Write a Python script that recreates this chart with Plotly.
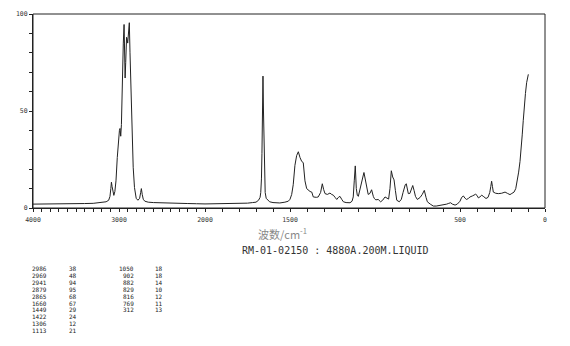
import plotly.graph_objects as go

# ---- spectrum data (wavenumber cm-1, intensity) ----
# high-wavenumber part, drawn on the compressed 4000-2000 axis
hi_wn = [4000, 3900, 3800, 3700, 3600, 3500, 3400, 3300, 3200, 3150, 3120, 3105, 3095, 3088,
         3080, 3072, 3060, 3048, 3035, 3020, 3005, 2995, 2988, 2980, 2972, 2965, 2958, 2950,
         2941, 2935, 2929, 2922, 2912, 2905, 2899, 2890, 2880, 2872, 2865, 2855, 2846, 2835,
         2820, 2800, 2780, 2760, 2748, 2740, 2730, 2718, 2700, 2660, 2600, 2500, 2400, 2300,
         2200, 2100, 2000]
hi_int = [2.0, 2.0, 2.1, 2.0, 2.2, 2.1, 2.3, 2.4, 2.8, 3.2, 4.0, 6.0, 10.0, 13.3,
          11.0, 8.0, 6.5, 8.5, 14.0, 26.0, 37.0, 40.0, 41.0, 37.0, 43.0, 60.0, 71.0, 85.0,
          94.6, 80.0, 67.0, 75.0, 88.0, 87.0, 85.0, 90.0, 95.5, 80.0, 66.0, 50.0, 38.0, 21.0,
          10.6, 5.0, 4.0, 5.0, 8.0, 10.0, 7.0, 4.5, 3.5, 3.0, 2.8, 2.6, 2.6, 2.5,
          2.3, 2.2, 2.1]

# low-wavenumber part, drawn on the 2000-0 axis
lo_wn = [2000, 1900, 1800, 1750, 1720, 1700, 1685, 1676, 1672, 1668, 1665, 1662, 1659, 1656,
         1653, 1650, 1646, 1640, 1630, 1620, 1600, 1560, 1530, 1510, 1500, 1490, 1481, 1471,
         1461, 1451, 1441, 1431, 1422, 1412, 1402, 1392, 1382, 1372, 1363, 1345, 1334, 1320,
         1310, 1302, 1294, 1280, 1265, 1255, 1245, 1235, 1225, 1215, 1206, 1196, 1186, 1170,
         1147, 1135, 1128, 1122, 1116, 1110, 1104, 1098, 1088, 1078, 1070, 1065, 1058, 1050,
         1040, 1030, 1020, 1010, 1004, 995, 981, 967, 955, 941, 930, 920, 912, 904, 896, 888,
         880, 872, 857, 845, 835, 829, 822, 816, 810, 804, 795, 785, 778, 770, 762, 751, 735,
         722, 710, 700, 692, 675, 657, 640, 618, 600, 578, 566, 555, 545, 529, 516, 500, 490,
         480, 470, 461, 450, 441, 425, 408, 400, 392, 382, 372, 360, 347, 335, 325, 319, 314,
         309, 304, 290, 275, 255, 235, 220, 206, 195, 182, 172, 163, 155, 147, 140, 134, 128,
         122, 115, 108, 98]
lo_int = [2.1, 2.2, 2.3, 2.5, 2.8, 3.0, 4.0, 5.5, 8.0, 15.0, 28.0, 50.0, 68.0, 50.0,
          28.0, 15.0, 8.0, 5.0, 3.8, 3.2, 2.8, 2.6, 3.0, 3.5, 4.5, 7.0, 12.0, 22.0,
          27.0, 29.0, 26.0, 24.0, 23.4, 14.0, 10.0, 9.0, 8.5, 8.2, 5.7, 5.5, 5.7, 8.0,
          12.5, 9.5, 7.4, 7.0, 7.7, 7.0, 6.6, 5.5, 4.4, 5.5, 6.0, 4.5, 3.2, 2.8,
          2.7, 3.5, 5.7, 14.0, 21.7, 10.0, 6.5, 6.0, 10.0, 15.0, 16.5, 18.3, 15.0, 10.0,
          7.0, 7.5, 9.4, 6.0, 4.9, 4.2, 4.4, 3.2, 4.0, 5.7, 5.0, 4.6, 10.0, 19.2, 16.0, 14.5,
          9.0, 4.0, 3.2, 4.5, 8.0, 10.5, 12.0, 12.5, 9.0, 7.4, 7.5, 10.0, 11.6, 9.0, 6.0, 4.4, 5.4,
          7.0, 9.1, 5.5, 3.2, 2.0, 1.0, 1.0, 1.3, 1.8, 2.0, 2.4, 2.7, 2.0, 1.5, 2.0, 3.5, 5.5,
          6.2, 5.0, 4.4, 5.0, 5.7, 6.3, 7.1, 6.5, 5.2, 5.8, 6.6, 5.8, 4.9, 5.5, 8.0, 11.0, 13.8,
          11.0, 8.2, 7.6, 7.4, 7.6, 8.2, 7.5, 6.9, 7.5, 8.2, 10.0, 14.0, 18.5, 24.0, 30.0, 37.7, 45.0,
          52.9, 59.0, 64.6, 68.9]

# ---- axis ticks ----
hi_ticks = list(range(4000, 2000, -100))
hi_labels = {4000: "4000", 3000: "3000"}
lo_ticks = list(range(2000, -1, -100))
lo_labels = {2000: "2000", 1500: "1500", 500: "500", 0: "0"}
y_ticks = list(range(0, 101, 10))
y_labels = {0: "0", 50: "50", 100: "100"}

# ---- peak table ----
peak_wn_1 = ["2986", "2969", "2941", "2879", "2865", "1660", "1449", "1422", "1306", "1113"]
peak_int_1 = ["38", "48", "94", "95", "68", "67", "29", "24", "12", "21"]
peak_wn_2 = ["1050", "902", "882", "829", "816", "769", "312"]
peak_int_2 = ["18", "18", "14", "10", "12", "11", "13"]

axis_title = "波数/cm<sup>-1</sup>"
sample_info = "RM-01-02150 : 4880A.200M.LIQUID"

W, H = 570, 346
L, R, T, B = 33, 25, 10, 138
PW, PH = W - L - R, H - T - B
SPLIT = (205 - L) / PW  # position of the 2000 cm-1 scale break


def px_x(px):
    return (px - L) / PW


def px_y(py):
    return (H - B - py) / PH


fig = go.Figure()
line = dict(color="#222222", width=1)
fig.add_trace(go.Scatter(x=hi_wn, y=hi_int, mode="lines", line=line,
                         xaxis="x", yaxis="y", showlegend=False, hoverinfo="skip"))
fig.add_trace(go.Scatter(x=lo_wn, y=lo_int, mode="lines", line=line,
                         xaxis="x2", yaxis="y", showlegend=False, hoverinfo="skip"))

tickfont = dict(family="DejaVu Sans Mono", size=6.5, color="#333333")
common_x = dict(showgrid=False, zeroline=False, showline=True, linecolor="#222222",
                linewidth=1, ticks="outside", ticklen=3, tickwidth=1, tickcolor="#222222",
                tickmode="array", tickfont=tickfont, anchor="y", ticklabelstandoff=2,
                tickangle=0)

fig.update_layout(
    width=W, height=H,
    margin=dict(l=L, r=R, t=T, b=B),
    paper_bgcolor="white", plot_bgcolor="white",
    xaxis=dict(domain=[0, SPLIT], range=[4000, 2000], tickvals=hi_ticks,
               ticktext=[hi_labels.get(v, " ") for v in hi_ticks], **common_x),
    xaxis2=dict(domain=[SPLIT, 1], range=[2000, 0], tickvals=lo_ticks,
                ticktext=[lo_labels.get(v, " ") for v in lo_ticks], **common_x),
    yaxis=dict(domain=[0, 1], range=[0, 100], showgrid=False, zeroline=False,
               showline=True, linecolor="#222222", linewidth=1, ticks="outside",
               ticklen=3, tickcolor="#222222", tickmode="array", tickvals=y_ticks,
               ticktext=[y_labels.get(v, " ") for v in y_ticks], tickfont=tickfont),
    shapes=[dict(type="rect", xref="paper", yref="paper", x0=0, x1=1, y0=0, y1=1,
                 line=dict(color="#222222", width=1))],
)

ann = []
ann.append(dict(text=axis_title, xref="paper", yref="paper", x=px_x(282), y=px_y(234),
                xanchor="center", yanchor="middle", showarrow=False,
                font=dict(family="Noto Sans CJK SC", size=11, color="#888888")))
ann.append(dict(text=sample_info, xref="paper", yref="paper", x=px_x(335), y=px_y(251.5),
                xanchor="center", yanchor="middle", showarrow=False,
                font=dict(family="DejaVu Sans Mono", size=10, color="#333333")))

tfont = dict(family="DejaVu Sans Mono", size=6, color="#222222")
for i, (a, b) in enumerate(zip(peak_wn_1, peak_int_1)):
    yy = px_y(270 + 7 * i)
    ann.append(dict(text=a, xref="paper", yref="paper", x=px_x(48.5), y=yy, xanchor="right",
                    yanchor="middle", showarrow=False, font=tfont))
    ann.append(dict(text=b, xref="paper", yref="paper", x=px_x(78.5), y=yy, xanchor="right",
                    yanchor="middle", showarrow=False, font=tfont))
for i, (a, b) in enumerate(zip(peak_wn_2, peak_int_2)):
    yy = px_y(270 + 7 * i)
    ann.append(dict(text=a, xref="paper", yref="paper", x=px_x(135.5), y=yy, xanchor="right",
                    yanchor="middle", showarrow=False, font=tfont))
    ann.append(dict(text=b, xref="paper", yref="paper", x=px_x(164.5), y=yy, xanchor="right",
                    yanchor="middle", showarrow=False, font=tfont))
fig.update_layout(annotations=ann)

fig.write_html("out.html")
